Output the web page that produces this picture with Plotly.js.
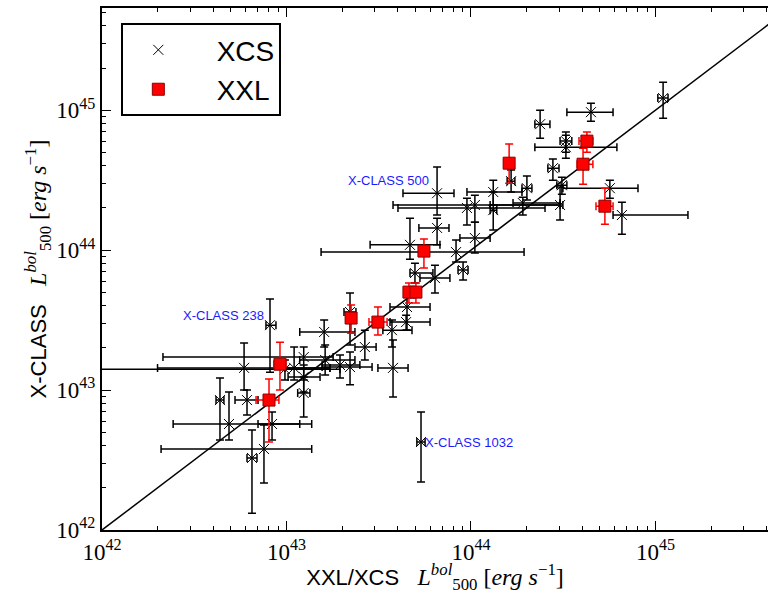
<!DOCTYPE html>
<html>
<head>
<meta charset="utf-8">
<script src="https://cdn.plot.ly/plotly-3.0.1.min.js"></script>
<style>html,body{margin:0;padding:0;background:#fff;}#chart{width:768px;height:594px;}</style>
</head>
<body>
<div id="chart"></div>
<script>
// XCS clusters: bolometric luminosity (erg/s), centre and lower/upper bounds
const xcsX   = [4.36e42,6.11e42,4.88e42,7.55e42,6.50e42,8.35e42,5.89e42,1.24e43,9.81e42,8.14e42,1.10e43,1.24e43,1.24e43,1.60e43,1.62e43,2.21e43,2.66e43,3.78e43,5.36e43,4.50e43,4.45e43,3.73e43,4.97e43,6.38e43,9.06e43,4.67e43,8.30e43,6.55e43,1.05e44,6.55e43,1.32e44,1.05e44,9.51e43,1.91e44,1.65e44,2.01e44,2.78e44,3.11e44,5.66e44,6.58e44,2.37e44,3.27e44,3.27e44,4.47e44,1.10e45,3.04e44,1.32e44,2.21e43,1.95e43];
const xcsXlo = [4.15e42,5.26e42,2.43e42,2.09e42,6.11e42,7.01e42,2.00e42,2.14e42,9.20e41,7.74e42,9.81e42,1.02e43,1.15e43,1.18e43,1.18e43,1.56e43,2.35e43,3.13e43,5.09e43,3.64e43,3.64e43,3.33e43,4.67e43,5.29e43,8.51e43,2.84e43,1.54e43,5.22e43,8.71e43,4.28e43,9.51e43,3.78e43,4.02e43,1.69e44,1.57e44,1.89e44,2.61e44,2.92e44,3.15e44,5.89e44,2.22e44,3.04e44,2.22e44,3.31e44,1.03e45,1.27e44,1.27e44,2.05e43,1.56e43];
const xcsXhi = [4.58e42,7.01e42,1.37e43,1.37e43,6.92e42,1.18e43,1.72e43,1.79e43,1.95e43,8.77e42,1.72e43,1.52e43,1.34e43,2.35e43,2.35e43,2.91e43,3.06e43,4.56e43,5.64e43,6.00e43,6.00e43,4.79e43,6.22e43,7.69e43,9.64e43,6.79e43,1.94e44,7.60e43,1.27e44,8.09e43,1.89e44,3.04e44,2.52e44,3.04e44,1.73e44,2.14e44,3.00e44,3.31e44,8.04e44,1.50e45,2.68e44,3.52e44,6.18e44,5.89e44,1.17e45,3.15e44,1.38e44,2.38e43,2.50e43];
const xcsY   = [8.48e42,8.48e42,5.72e42,3.79e42,3.27e42,5.72e42,1.44e43,1.72e43,1.41e43,2.91e43,1.44e43,1.24e43,9.52e42,2.60e43,1.64e43,1.46e43,2.03e43,1.44e43,4.25e42,3.92e43,3.06e43,2.68e43,6.85e43,6.31e43,7.20e43,1.09e44,9.68e43,1.44e44,1.22e44,2.55e44,2.60e44,2.10e44,2.00e44,2.17e44,3.11e44,2.77e44,3.85e44,2.91e44,2.77e44,1.78e44,7.94e44,6.01e44,5.44e44,9.68e44,1.22e45,2.10e44,1.93e44,3.61e43,1.51e43];
const xcsYlo = [4.39e42,6.63e42,4.39e42,2.17e42,1.32e42,4.39e42,1.00e43,1.18e43,1.18e43,1.34e43,1.18e43,9.68e42,6.41e42,2.03e43,1.28e43,1.09e43,1.64e43,8.91e42,2.20e42,2.68e43,2.68e43,2.03e43,5.81e43,4.93e43,6.11e43,8.62e43,8.21e43,1.09e44,9.52e43,1.78e44,2.10e44,1.58e44,1.51e44,1.78e44,2.60e44,2.28e44,3.16e44,2.51e44,2.35e44,1.30e44,6.31e44,5.01e44,4.54e44,8.34e44,8.77e44,1.64e44,1.39e44,2.10e43,1.22e43];
const xcsYhi = [1.22e43,1.00e43,9.68e42,5.62e42,5.18e42,6.97e42,2.17e43,2.03e43,1.64e43,4.47e43,2.03e43,1.51e43,1.24e43,3.16e43,2.10e43,1.87e43,2.68e43,2.28e43,6.97e42,5.18e43,3.43e43,3.16e43,8.07e43,7.81e43,8.21e43,1.69e44,1.18e44,1.69e44,1.58e44,3.92e44,3.16e44,2.47e44,2.35e44,2.39e44,3.73e44,3.38e44,4.47e44,3.32e44,3.16e44,2.20e44,1.00e45,6.97e44,6.63e44,1.12e45,1.58e45,2.82e44,2.60e44,4.93e43,1.78e43];

// XXL clusters
const xxlX   = [1.61e44,4.25e44,4.05e44,5.32e44,5.56e43,4.61e43,5.03e43,3.13e43,2.24e43,9.22e42,8.04e42];
const xxlXlo = [1.51e44,3.85e44,3.76e44,4.76e44,5.22e43,4.34e43,4.85e43,2.80e43,2.10e43,8.55e42,6.84e42];
const xxlXhi = [1.71e44,4.58e44,4.58e44,5.89e44,5.92e43,4.85e43,5.29e43,3.51e43,2.38e43,9.94e42,9.10e42];
const xxlY   = [4.18e44,6.01e44,4.11e44,2.06e44,9.84e43,5.01e43,5.01e43,3.06e43,3.27e43,1.53e43,8.48e42];
const xxlYlo = [3.01e44,5.01e44,2.96e44,1.53e44,7.44e43,4.18e43,4.18e43,2.47e43,2.55e43,1.00e43,4.25e42];
const xxlYhi = [5.72e44,6.97e44,5.35e44,2.77e44,1.20e44,5.81e43,5.81e43,3.92e43,4.05e43,2.20e43,1.20e43];

// one-to-one relation
const lineX = [1e42, 1e46];
const lineY = [1e42, 1e46];

// labelled outliers
const labelText = ['X-CLASS 500', 'X-CLASS 238', 'X-CLASS 1032'];
const labelX = [6.07e43, 7.74e42, 5.5e43];
const labelY = [3.16e44, 3.43e43, 4.25e42];
const labelAnchor = ['right', 'right', 'left'];

// axis ticks
const tickVals = [1e42, 1e43, 1e44, 1e45];
const tickText = ['10<sup>42</sup>', '10<sup>43</sup>', '10<sup>44</sup>', '10<sup>45</sup>'];
const minorMantissa = [2, 3, 4, 5, 6, 7, 8, 9];
const minorVals = [];
[1e42, 1e43, 1e44, 1e45].forEach(d => minorMantissa.forEach(m => minorVals.push(m * d)));

const sub = (a, b) => a.map((v, i) => v - b[i]);
const subR = (a, b) => a.map((v, i) => b[i] - v);

const pad = '\u00a0\u00a0\u00a0';
const traces = [
  {x: lineX, y: lineY, mode: 'lines', line: {color: '#000', width: 1.5}, showlegend: false, hoverinfo: 'skip'},
  {x: xcsX, y: xcsY, mode: 'markers', name: pad + 'XCS',
   marker: {symbol: 'x-thin', size: 10, color: '#000', line: {color: '#000', width: 1}},
   error_x: {type: 'data', symmetric: false, array: sub(xcsXhi, xcsX), arrayminus: subR(xcsXlo, xcsX), color: '#000', thickness: 1.5, width: 4},
   error_y: {type: 'data', symmetric: false, array: sub(xcsYhi, xcsY), arrayminus: subR(xcsYlo, xcsY), color: '#000', thickness: 1.5, width: 4}},
  {x: xxlX, y: xxlY, mode: 'markers', name: pad + 'XXL',
   marker: {symbol: 'square', size: 12, color: '#ff0000', line: {color: '#8b0000', width: 1}},
   error_x: {type: 'data', symmetric: false, array: sub(xxlXhi, xxlX), arrayminus: subR(xxlXlo, xxlX), color: '#ff0000', thickness: 1.5, width: 4},
   error_y: {type: 'data', symmetric: false, array: sub(xxlYhi, xxlY), arrayminus: subR(xxlYlo, xxlY), color: '#ff0000', thickness: 1.5, width: 4}}
];

const serif = '"Liberation Serif", "DejaVu Serif", serif';
const sans = '"Liberation Sans", Arial, sans-serif';
const mathPart = '<span style="font-family:Liberation Serif;font-size:24px"><i>L</i><sup><i>bol</i></sup><sub>500</sub> [<i>erg s</i><sup>−1</sup>]</span>';

const axisCommon = {
  type: 'log', showgrid: false, zeroline: false,
  showline: true, linecolor: '#000', linewidth: 2,
  ticks: 'inside', ticklen: 9, tickwidth: 1, tickcolor: '#000',
  tickmode: 'array', tickvals: tickVals, ticktext: tickText,
  tickfont: {family: serif, size: 23, color: '#000'},
  minor: {tickmode: 'array', tickvals: minorVals, ticks: 'inside', ticklen: 4, tickcolor: '#000', tickwidth: 1, showgrid: false}
};

const layout = {
  width: 768, height: 594,
  margin: {l: 102, r: 0, t: 8, b: 64},
  paper_bgcolor: '#fff', plot_bgcolor: '#fff',
  showlegend: true,
  legend: {x: 0.029, y: 0.971, xanchor: 'left', yanchor: 'top',
           bordercolor: '#000', borderwidth: 2, bgcolor: '#fff',
           font: {family: sans, size: 28, color: '#000'}, itemwidth: 60, tracegroupgap: 4},
  xaxis: Object.assign({}, axisCommon, {range: [42, 45.61], mirror: 'ticks',
    title: {text: 'XXL/XCS   ' + mathPart, font: {family: sans, size: 22, color: '#000'}, standoff: 4}}),
  yaxis: Object.assign({}, axisCommon, {range: [42, 45.73], mirror: false,
    title: {text: 'X-CLASS   ' + mathPart, font: {family: sans, size: 22, color: '#000'}, standoff: 4}}),
  annotations: labelText.map((t, i) => ({
    x: Math.log10(labelX[i]), y: Math.log10(labelY[i]), xref: 'x', yref: 'y',
    text: t, showarrow: false, xanchor: labelAnchor[i], yanchor: 'middle',
    font: {family: sans, size: 13, color: '#1a1aff'}
  }))
};

Plotly.newPlot('chart', traces, layout, {displayModeBar: false, staticPlot: true});
</script>
</body>
</html>
